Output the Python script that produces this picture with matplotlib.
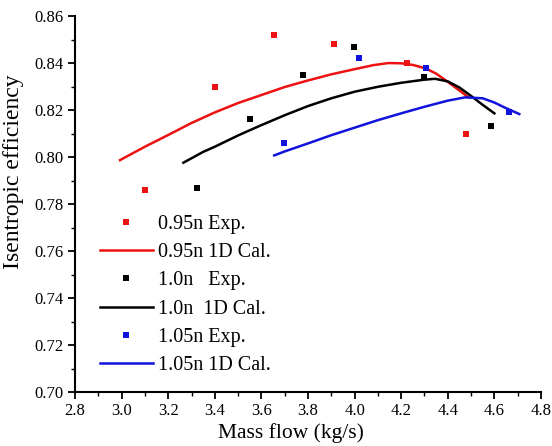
import matplotlib
matplotlib.use("Agg")
import matplotlib.pyplot as plt
from matplotlib.ticker import MultipleLocator

plt.rcParams['font.family'] = ['Liberation Serif', 'DejaVu Serif']

# Experimental points
x_exp_095 = [3.10, 3.40, 3.653, 3.91, 4.224, 4.48]
y_exp_095 = [0.786, 0.830, 0.852, 0.848, 0.840, 0.810]
x_exp_100 = [3.325, 3.553, 3.78, 3.996, 4.297, 4.587]
y_exp_100 = [0.787, 0.816, 0.835, 0.847, 0.834, 0.813]
x_exp_105 = [3.698, 4.017, 4.306, 4.661]
y_exp_105 = [0.806, 0.842, 0.838, 0.819]

# 1D calculation curves
x_cal_095 = [2.993, 3.1, 3.2, 3.3, 3.4, 3.5, 3.6, 3.7, 3.8, 3.9, 4.0, 4.08, 4.145, 4.2, 4.25, 4.306, 4.35, 4.4, 4.45, 4.488]
y_cal_095 = [0.7987, 0.8044, 0.8094, 0.8145, 0.8190, 0.8230, 0.8264, 0.8298, 0.8326, 0.8352, 0.8374, 0.8391, 0.8400, 0.8399, 0.8392, 0.8377, 0.8355, 0.8320, 0.8283, 0.8255]
x_cal_100 = [3.265, 3.35, 3.4, 3.5, 3.6, 3.7, 3.8, 3.9, 4.0, 4.1, 4.2, 4.297, 4.345, 4.4, 4.45, 4.5, 4.55, 4.60]
y_cal_100 = [0.7976, 0.8022, 0.8044, 0.8092, 0.8136, 0.8178, 0.8217, 0.8250, 0.8278, 0.8299, 0.8316, 0.8329, 0.8333, 0.8322, 0.8296, 0.8260, 0.8222, 0.8186]
x_cal_105 = [3.655, 3.7, 3.8, 3.9, 4.0, 4.1, 4.2, 4.3, 4.4, 4.474, 4.55, 4.6, 4.65, 4.707]
y_cal_105 = [0.8007, 0.8024, 0.8058, 0.8093, 0.8125, 0.8157, 0.8186, 0.8214, 0.8240, 0.8254, 0.8250, 0.8232, 0.8208, 0.8183]

xticks = [2.8, 3.0, 3.2, 3.4, 3.6, 3.8, 4.0, 4.2, 4.4, 4.6, 4.8]
yticks = [0.70, 0.72, 0.74, 0.76, 0.78, 0.80, 0.82, 0.84, 0.86]

red = '#ee1111'
blue = '#1212dd'
black = '#000000'

fig = plt.figure(figsize=(5.52, 4.46), dpi=100)
ax = fig.add_axes([0.136, 0.121, 0.844, 0.843])

ms = 5
lw = 1.8
ax.plot(x_exp_095, y_exp_095, 's', color=red, ms=ms, mew=0, label='0.95n Exp.')
ax.plot(x_cal_095, y_cal_095, '-', color=red, lw=lw, label='0.95n 1D Cal.')
ax.plot(x_exp_100, y_exp_100, 's', color=black, ms=ms, mew=0, label='1.0n   Exp.')
ax.plot(x_cal_100, y_cal_100, '-', color=black, lw=lw, label='1.0n  1D Cal.')
ax.plot(x_exp_105, y_exp_105, 's', color=blue, ms=ms, mew=0, label='1.05n Exp.')
ax.plot(x_cal_105, y_cal_105, '-', color=blue, lw=lw, label='1.05n 1D Cal.')

ax.set_xlim(2.8, 4.8)
ax.set_ylim(0.70, 0.86)
ax.set_xticks(xticks)
ax.set_yticks(yticks)
ax.set_xticklabels([f'{v:.1f}' for v in xticks])
ax.set_yticklabels([f'{v:.2f}' for v in yticks])
ax.xaxis.set_minor_locator(MultipleLocator(0.1))
ax.yaxis.set_minor_locator(MultipleLocator(0.01))
ax.tick_params(which='major', direction='out', length=5, width=1.3, labelsize=12, colors='black', pad=3)
ax.tick_params(which='minor', direction='out', length=3, width=1.0)
for s in ['top', 'right']:
    ax.spines[s].set_visible(False)
for s in ['left', 'bottom']:
    ax.spines[s].set_linewidth(1.5)

ax.set_xlabel('Mass flow (kg/s)', fontsize=15.5)
ax.xaxis.set_label_coords(0.4635, -0.082)
ax.set_ylabel('Isentropic efficiency', fontsize=17)
ax.yaxis.set_label_coords(-0.133, 0.585)
ax.yaxis.label.set_va('center')

ax.legend(loc='upper left', bbox_to_anchor=(0.054, 0.472), frameon=False,
          fontsize=14.5, handlelength=2.6, handletextpad=0.25, labelspacing=0.46,
          borderaxespad=0, borderpad=0)

fig.savefig('out.png', dpi=100)
